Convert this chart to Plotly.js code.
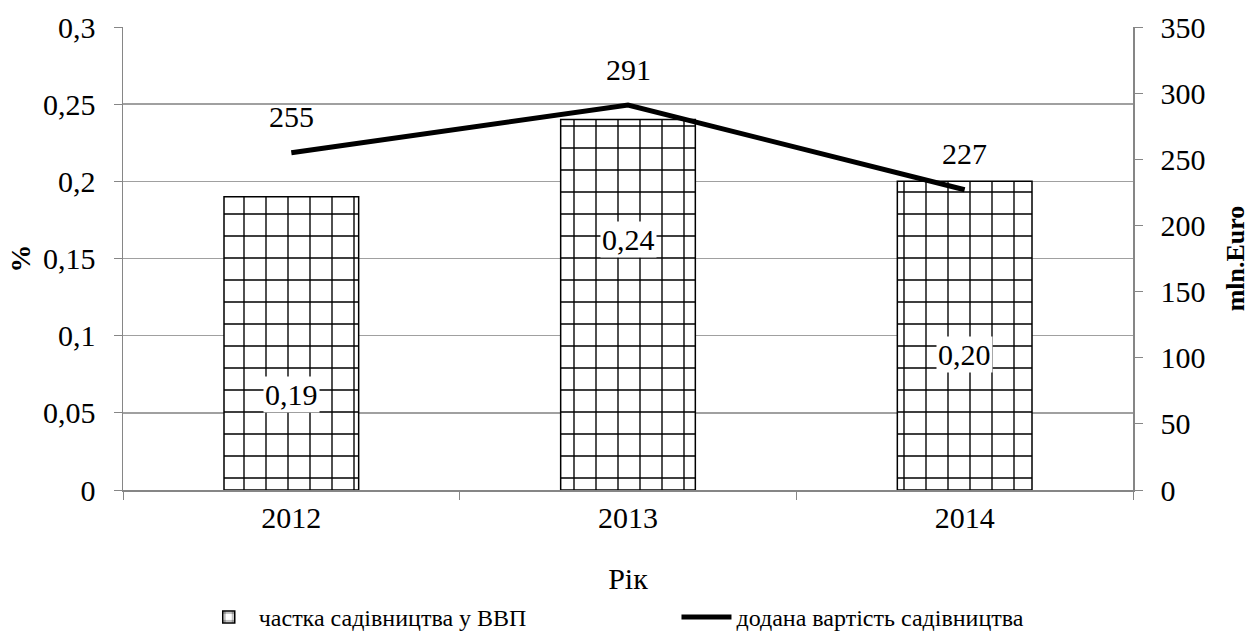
<!DOCTYPE html>
<html>
<head>
<meta charset="utf-8">
<script src="https://cdn.plot.ly/plotly-3.0.1.min.js"></script>
<style>
html,body{margin:0;padding:0;background:#fff;}
#chart{width:1250px;height:644px;}
</style>
</head>
<body>
<div id="chart"></div>
<script>
const years = ['2012', '2013', '2014'];
const shareGDP = [0.19, 0.24, 0.20];
const addedValue = [255, 291, 227];
const barLabelY = [0.0616, 0.162, 0.0875];

const font = 'serif';
const fmt = v => v.toFixed(2).replace('.', ',');
const axisGray = '#868686';
const f = size => ({family: font, size: size, color: '#000'});

const traces = [
  {
    type: 'bar', x: years, y: shareGDP, name: 'частка садівництва у ВВП',
    width: 0.4, legend: 'legend',
    marker: {color: '#ffffff', line: {color: '#000', width: 1.5},
      pattern: {shape: '+', size: 22, solidity: 0.12, fgcolor: '#000', bgcolor: '#fff'}},
    hoverinfo: 'none'
  },
  {
    type: 'scatter', mode: 'lines', x: years, y: addedValue, yaxis: 'y2',
    name: 'додана вартість садівництва', legend: 'legend2',
    line: {color: '#000', width: 5},
    hoverinfo: 'none'
  }
];

const annotations = [];
years.forEach((yr, i) => {
  annotations.push({x: i, y: barLabelY[i], xref: 'x', yref: 'y', text: fmt(shareGDP[i]),
    showarrow: false, bgcolor: '#fff', borderpad: 1, font: f(30)});
  annotations.push({x: i, y: addedValue[i], xref: 'x', yref: 'y2', text: String(addedValue[i]),
    showarrow: false, yshift: 36, font: f(30)});
});

const layout = {
  width: 1250, height: 644,
  margin: {l: 123, r: 117, t: 27, b: 154, autoexpand: false},
  paper_bgcolor: '#fff', plot_bgcolor: '#fff',
  separators: ',.',
  font: f(30),
  showlegend: true,
  legend: {orientation: 'h', x: 0.075, xanchor: 'left', y: -0.275, yanchor: 'middle',
    font: f(24), itemwidth: 50, bgcolor: 'rgba(0,0,0,0)'},
  legend2: {orientation: 'h', x: 0.548, xanchor: 'left', y: -0.275, yanchor: 'middle',
    font: f(24), itemwidth: 50, bgcolor: 'rgba(0,0,0,0)'},
  xaxis: {
    type: 'category', tickson: 'boundaries', ticks: 'outside', ticklen: 8, tickcolor: axisGray,
    showline: true, linecolor: axisGray, linewidth: 1.5, showgrid: false,
    tickfont: f(30),
    title: {text: 'Рік', font: f(30), standoff: 35}
  },
  yaxis: {
    range: [0, 0.3], dtick: 0.05, ticks: 'outside', ticklen: 8, tickcolor: axisGray,
    showline: true, linecolor: axisGray, linewidth: 1.5, ticklabelstandoff: 12,
    showgrid: true, gridcolor: '#a0a0a0', gridwidth: 1.5, zeroline: false,
    tickfont: f(30),
    title: {text: '<b>%</b>', font: f(28), standoff: 4}
  },
  yaxis2: {
    overlaying: 'y', side: 'right', range: [0, 350], dtick: 50, ticks: 'outside', ticklen: 8,
    tickcolor: axisGray, showline: true, linecolor: axisGray, linewidth: 1.5, ticklabelstandoff: 12,
    showgrid: false, zeroline: false,
    tickfont: f(30),
    title: {text: '<b>mln.Euro</b>', font: f(26), standoff: 24}
  },
  annotations: annotations
};

Plotly.newPlot('chart', traces, layout, {displayModeBar: false, staticPlot: true});
</script>
</body>
</html>
